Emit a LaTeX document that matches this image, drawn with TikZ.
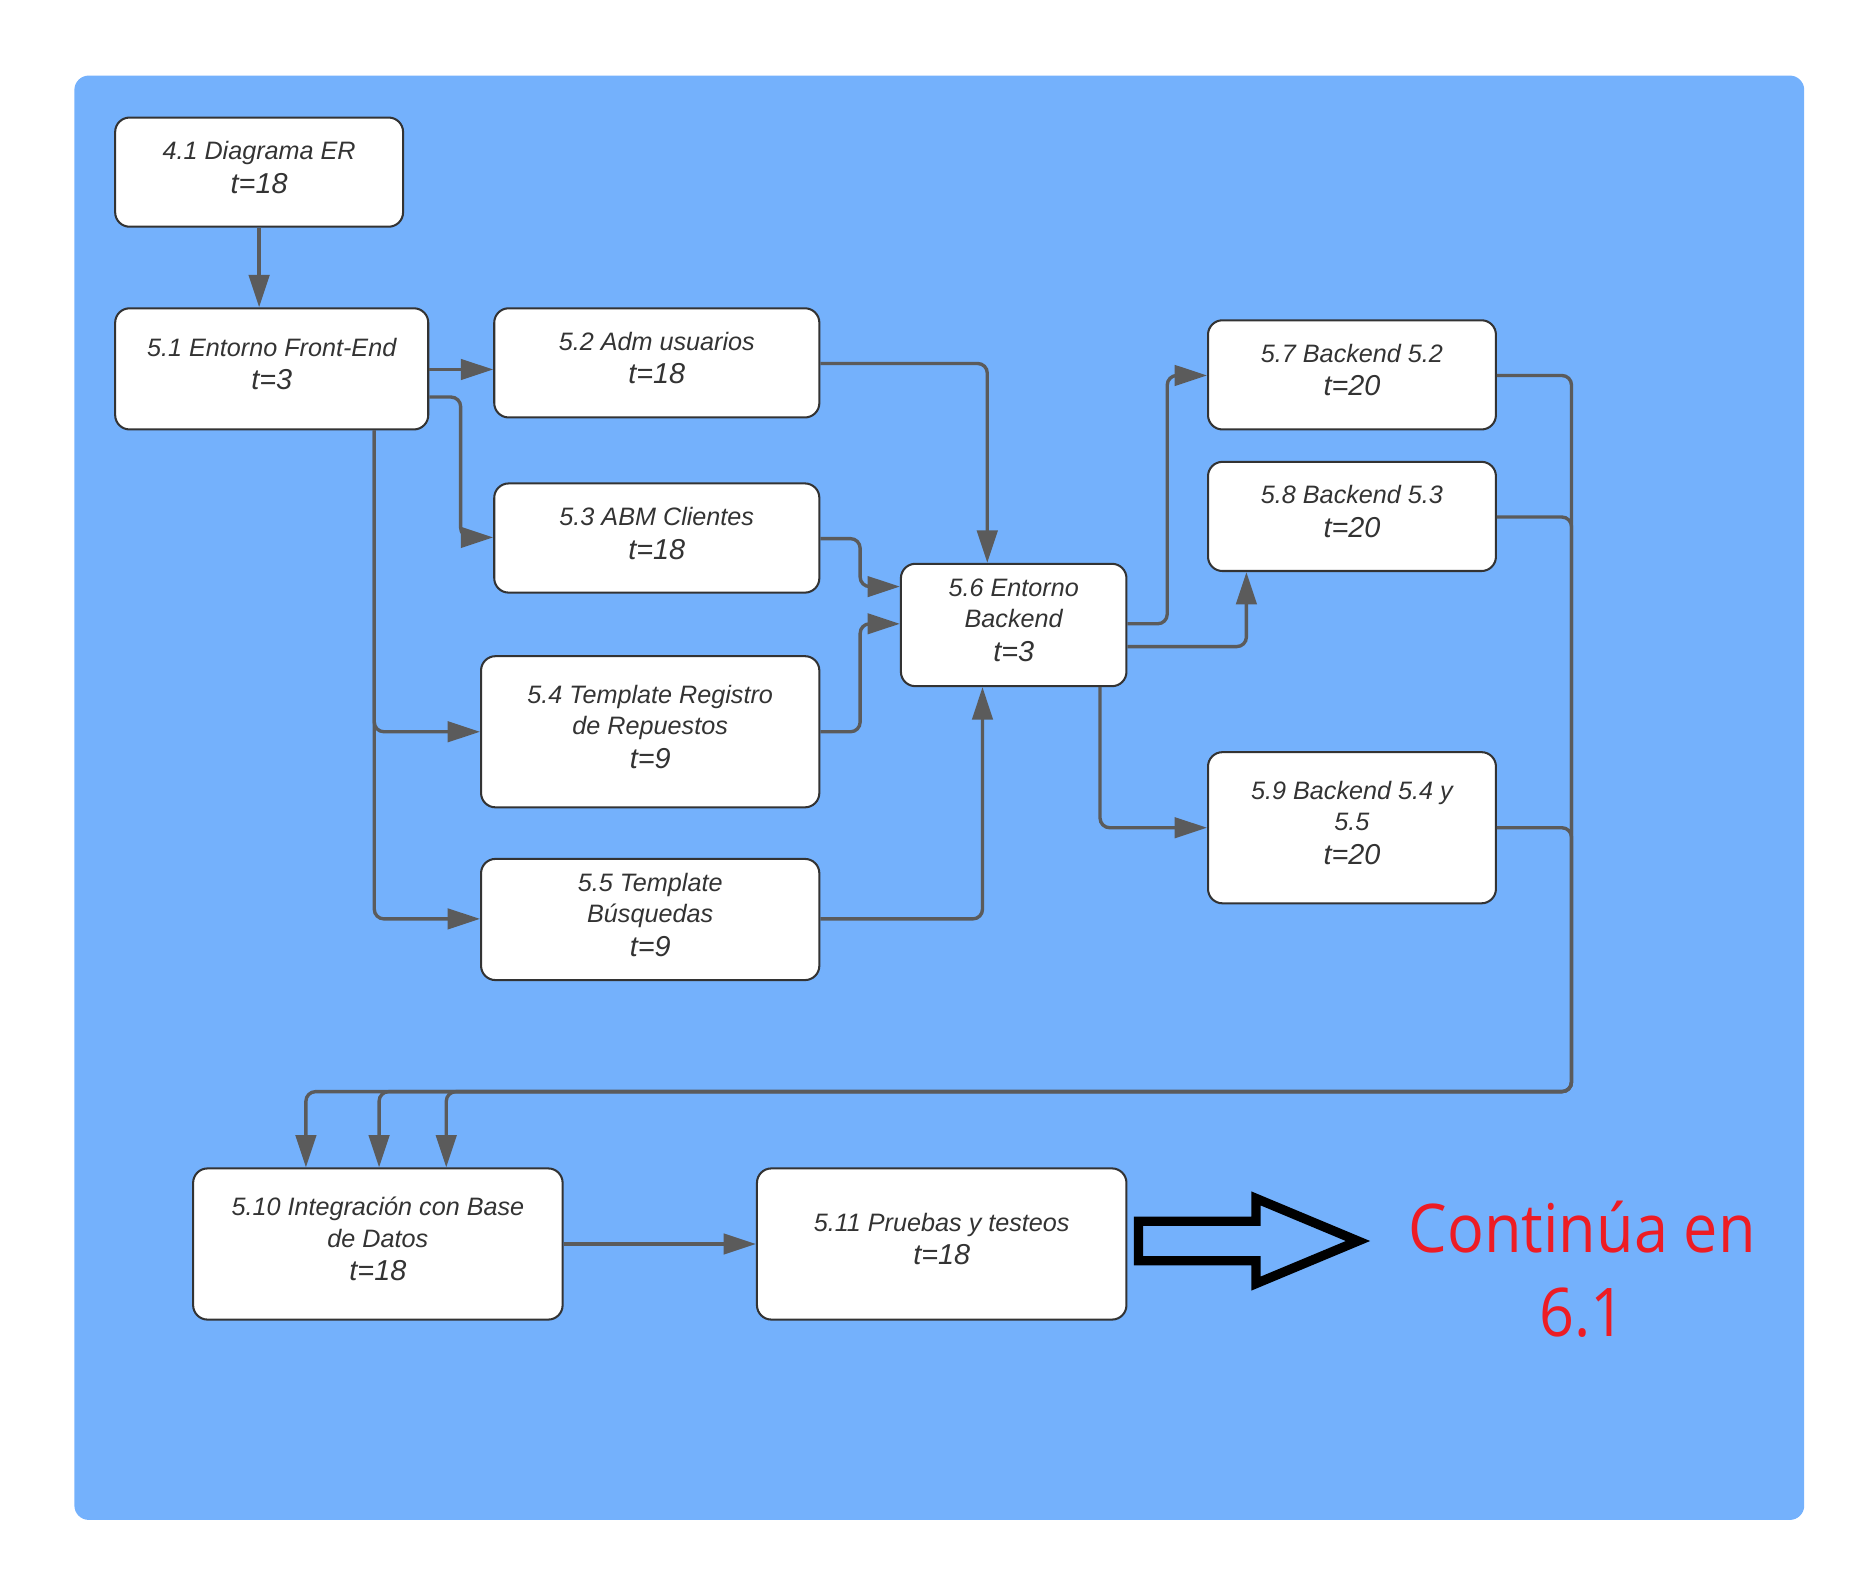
\documentclass[tikz,border=0pt]{standalone}
\usepackage{fontspec}
\setmainfont{Liberation Sans}
\newfontfamily\redfont[FakeStretch=0.91]{Open Sans}
\usetikzlibrary{arrows.meta}
\definecolor{bgblue}{RGB}{116,177,252}
\definecolor{boxline}{RGB}{51,51,51}
\definecolor{conncol}{RGB}{91,91,91}
\definecolor{txtcol}{RGB}{51,51,51}
\definecolor{redtxt}{RGB}{237,28,36}
\newcommand{\tl}[1]{{\fontsize{12pt}{13.5pt}\selectfont #1}}
\begin{document}
\begin{tikzpicture}[x=0.5pt,y=-0.5pt,
  box/.style={draw=boxline, fill=white, rounded corners=6pt, line width=0.85pt, inner sep=0pt},
  boxtxt/.style={align=center, inner sep=0pt, text=txtcol, yshift=2pt,
    font=\fontsize{10.5pt}{13pt}\selectfont\itshape},
  conn/.style={draw=conncol, line width=1.4pt, rounded corners=4pt,
    -{Triangle[length=13.5pt,width=8.5pt]}},
  bigarrow/.style={draw=black, line width=3.9pt, miter limit=10}]
\useasboundingbox (0,0) rectangle (1563,1325);
\fill[bgblue, rounded corners=6pt] (62,63) rectangle (1504,1267);

\node[box, minimum width=120pt, minimum height=45.5pt] (A) at (216,143.5) {};
\node[boxtxt] (At) at (A.center) {4.1 Diagrama ER\\[1pt]\tl{t=18}};
\node[box, minimum width=130.5pt, minimum height=50.5pt] (B) at (226.5,307.5) {};
\node[boxtxt] (Bt) at (B.center) {5.1 Entorno Front-End\\[1pt]\tl{t=3}};
\node[box, minimum width=135.5pt, minimum height=45.5pt] (C) at (547.5,302.5) {};
\node[boxtxt] (Ct) at (C.center) {5.2 Adm usuarios\\[1pt]\tl{t=18}};
\node[box, minimum width=135.5pt, minimum height=45.5pt] (D) at (547.5,448.5) {};
\node[boxtxt] (Dt) at (D.center) {5.3 ABM Clientes\\[1pt]\tl{t=18}};
\node[box, minimum width=141pt, minimum height=63pt] (E) at (542,610) {};
\node[boxtxt] (Et) at (E.center) {5.4 Template Registro\\de Repuestos\\[1pt]\tl{t=9}};
\node[box, minimum width=141pt, minimum height=50.5pt] (F) at (542,766.5) {};
\node[boxtxt] (Ft) at (F.center) {5.5 Template\\Búsquedas\\[1pt]\tl{t=9}};
\node[box, minimum width=94pt, minimum height=51pt] (G) at (845,521) {};
\node[boxtxt] (Gt) at (G.center) {5.6 Entorno\\Backend\\[1pt]\tl{t=3}};
\node[box, minimum width=120pt, minimum height=45.5pt] (H) at (1127,312.5) {};
\node[boxtxt] (Ht) at (H.center) {5.7 Backend 5.2\\[1pt]\tl{t=20}};
\node[box, minimum width=120pt, minimum height=45.5pt] (I) at (1127,430.5) {};
\node[boxtxt] (It) at (I.center) {5.8 Backend 5.3\\[1pt]\tl{t=20}};
\node[box, minimum width=120pt, minimum height=63pt] (J) at (1127,690) {};
\node[boxtxt] (Jt) at (J.center) {5.9 Backend 5.4 y\\5.5\\[1pt]\tl{t=20}};
\node[box, minimum width=154pt, minimum height=63pt] (K) at (315,1037) {};
\node[boxtxt] (Kt) at (K.center) {5.10 Integración con Base\\de Datos\\[1pt]\tl{t=18}};
\node[box, minimum width=154pt, minimum height=63pt] (L) at (785,1037) {};
\node[boxtxt] (Lt) at (L.center) {5.11 Pruebas y testeos\\[1pt]\tl{t=18}};

\node[text=redtxt, align=center, font=\redfont\fontsize{28pt}{35pt}\selectfont] (R) at (1319,1058) {Continúa en\\6.1};

\draw[conn] (A.south) -- (A.south |- B.north);
\draw[conn] (B.east |- 0,308) -- (C.west |- 0,308);
\draw[conn] (B.east |- 0,331) -| (384,448) -- (D.west |- 0,448);
\draw[conn] (B.south -| 312,0) |- (E.west |- 0,610);
\draw[conn] (B.south -| 312,0) |- (F.west |- 0,766);
\draw[conn] (C.east |- 0,303) -| (G.north -| 823,0);
\draw[conn] (D.east |- 0,449) -| (717,489) -- (G.west |- 0,489);
\draw[conn] (E.east |- 0,610) -| (717,520) -- (G.west |- 0,520);
\draw[conn] (F.east |- 0,766) -| (G.south -| 819,0);
\draw[conn] (G.east |- 0,520) -| (973,313) -- (H.west |- 0,313);
\draw[conn] (G.east |- 0,539) -| (I.south -| 1039,0);
\draw[conn] (G.south -| 917,0) |- (J.west |- 0,690);
\draw[conn] (H.east |- 0,313) -| (1310,910) -| (K.north -| 255,0);
\draw[conn] (I.east |- 0,431) -| (1310,910) -| (K.north -| 316,0);
\draw[conn] (J.east |- 0,690) -| (1310,910) -| (K.north -| 372,0);
\draw[conn] (K.east) -- (L.west);

\draw[bigarrow] (949,1018) -- (1047,1018) -- (1047,999) -- (1132,1034.5) -- (1047,1070) -- (1047,1051) -- (949,1051) -- cycle;
\end{tikzpicture}
\end{document}
